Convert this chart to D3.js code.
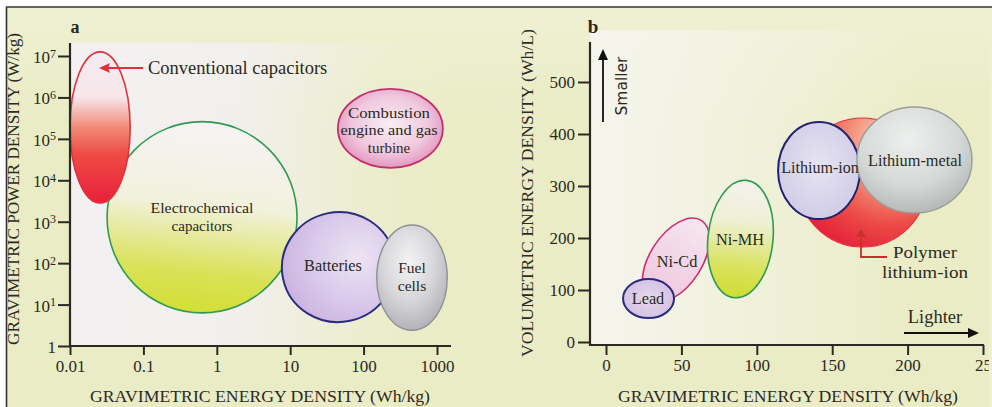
<!DOCTYPE html>
<html><head><meta charset="utf-8">
<script src="https://cdn.jsdelivr.net/npm/d3@7"></script>
<style>body{margin:0;background:#fff}svg{display:block}</style>
</head><body>
<script>
// ---------- DATA ----------
// Panel a: Ragone plot (log-log)
const xTicksA = [0.01, 0.1, 1, 10, 100, 1000];
const xTickLabelsA = ["0.01", "0.1", "1", "10", "100", "1000"];
const yTicksA = [1, 10, 100, 1e3, 1e4, 1e5, 1e6, 1e7];
const yTickExpA = [null, 1, 2, 3, 4, 5, 6, 7];
const techA = ["Electrochemical capacitors", "Conventional capacitors", "Batteries", "Fuel cells", "Combustion engine and gas turbine"];
const energyMinA = [0.032, 0.01, 7.7, 151, 44.6];      // Wh/kg
const energyMaxA = [12.4, 0.066, 270, 1380, 1200];
const powerMinA = [6.3, 2820, 3.8, 2.4, 2.0e4];        // W/kg
const powerMaxA = [2.6e5, 1.26e7, 1700, 830, 1.6e6];
const tiltA = [0, 0, -12, 0, 0];

// Panel b: volumetric vs gravimetric energy density
const xTicksB = [0, 50, 100, 150, 200, 250];
const xTickLabelsB = ["0", "50", "100", "150", "200", "25"];
const yTicksB = [0, 100, 200, 300, 400, 500];
const techB = ["Ni-Cd", "Lead", "Ni-MH", "Polymer lithium-ion", "Lithium-ion", "Lithium-metal"];
const gravMinB = [29.2, 11.3, 67.6, 127.3, 114.1, 166.4];   // Wh/kg
const gravMaxB = [63.6, 45.1, 110.7, 212.9, 168.4, 242.7];
const volMinB = [67.3, 46, 84.6, 182.7, 236.5, 248];       // Wh/L
const volMaxB = [248.1, 121, 311.5, 430.8, 423, 452];
const tiltB = [33, 0, 6, 0, 0, 0];

// ---------- SETUP ----------
const W = 992, H = 407;
const ink = "#2a2a22";
const serif = "'Liberation Serif','Times New Roman',serif";
const svg = d3.select("body").append("svg").attr("width", W).attr("height", H)
  .style("font-family", serif);
const defs = svg.append("defs");

function lin(id, x1, y1, x2, y2, stops) {
  const g = defs.append("linearGradient").attr("id", id)
    .attr("x1", x1).attr("y1", y1).attr("x2", x2).attr("y2", y2);
  stops.forEach(s => g.append("stop").attr("offset", s[0]).attr("stop-color", s[1]).attr("stop-opacity", s[2] == null ? 1 : s[2]));
}
function rad(id, cx, cy, r, stops, fx, fy) {
  const g = defs.append("radialGradient").attr("id", id)
    .attr("cx", cx).attr("cy", cy).attr("r", r).attr("fx", fx == null ? cx : fx).attr("fy", fy == null ? cy : fy);
  stops.forEach(s => g.append("stop").attr("offset", s[0]).attr("stop-color", s[1]).attr("stop-opacity", s[2] == null ? 1 : s[2]));
}

// background gradients
lin("bgA", 0, 0, 1, 0, [[0, "#f3f0f2", 1], [0.45, "#f3f0f2", 0.85], [0.8, "#f3f0f2", 0.15], [1, "#f3f0f2", 0]]);
lin("bgB", 0, 0, 1, 0, [[0, "#f6f5ef", 0.95], [0.35, "#f6f5ef", 0.65], [1, "#f6f5ef", 0]]);
lin("bgTop", 0, 0, 0, 1, [[0, "#f1f3dc", 0.6], [1, "#f1f3dc", 0]]);

// fills panel a
lin("fConv", 0, 0, 0, 1, [[0, "#f3ecf2"], [0.3, "#f7e6ea"], [0.5, "#f28a78"], [0.68, "#ee4a44"], [1, "#e8203c"]]);
lin("fEC", 0.2, 0, 0.1, 1, [[0, "#f6f3f3"], [0.4, "#f2f1dc"], [0.75, "#d9e257"], [1, "#d2de2e"]]);
rad("fBat", 0.68, 0.45, 0.7, [[0, "#ece4f2"], [0.5, "#dccdec"], [1, "#c9b3e0"]]);
rad("fFuel", 0.45, 0.35, 0.75, [[0, "#f4f4f4"], [0.5, "#d6d6da"], [1, "#a6a6ac"]]);
rad("fComb", 0.5, 0.45, 0.65, [[0, "#f8eef4"], [0.55, "#f0c8de"], [1, "#dd7fb0"]]);
// fills panel b
rad("fLead", 0.5, 0.5, 0.6, [[0, "#e6d8ee"], [1, "#d0bde2"]]);
lin("fNiCd", 0, 0, 0, 1, [[0, "#f6e6f0"], [1, "#edc6dc"]]);
lin("fNiMH", 0, 0, 0, 1, [[0, "#f3f2ee"], [0.35, "#eef0d4"], [0.75, "#d8e25a"], [1, "#d0dc34"]]);
rad("fPoly", 0.75, 0.2, 0.9, [[0, "#f8e4dc"], [0.35, "#f49a82"], [0.7, "#ec4a46"], [1, "#e4203a"]]);
rad("fLiIon", 0.5, 0.45, 0.65, [[0, "#e6e4f2"], [1, "#cdc8e4"]]);
rad("fLiMet", 0.45, 0.3, 0.8, [[0, "#eef0ee"], [0.55, "#d4d8d6"], [1, "#a9adac"]]);

// page background + frame
svg.append("rect").attr("x", 6).attr("y", 7).attr("width", W - 6).attr("height", H - 7).attr("fill", "#eaecc5");
svg.append("rect").attr("x", 6).attr("y", 7).attr("width", W - 6).attr("height", 120).attr("fill", "url(#bgTop)");

// ---------- PANEL A ----------
const xa = d3.scaleLog().domain([0.01, 1000]).range([70, 437]);
const ya = d3.scaleLog().domain([1, 1e7]).range([346, 56]);
const gA = svg.append("g");
gA.append("rect").attr("x", 70).attr("y", 43).attr("width", 385).attr("height", 303).attr("fill", "url(#bgA)");

const fillsA = ["url(#fEC)", "url(#fConv)", "url(#fBat)", "url(#fFuel)", "url(#fComb)"];
const strokesA = ["#2f9a52", "#e2303a", "#2b2b7c", "#8f8f94", "#c2306e"];
const swA = [1.6, 1.6, 2, 1.4, 1.8];
techA.forEach((t, i) => {
  const x0 = xa(energyMinA[i]), x1 = xa(energyMaxA[i]);
  const y0 = ya(powerMaxA[i]), y1 = ya(powerMinA[i]);
  const cx = (x0 + x1) / 2, cy = (y0 + y1) / 2;
  gA.append("ellipse").attr("cx", cx).attr("cy", cy)
    .attr("rx", (x1 - x0) / 2).attr("ry", (y1 - y0) / 2)
    .attr("transform", `rotate(${tiltA[i]},${cx},${cy})`)
    .attr("fill", fillsA[i]).attr("stroke", strokesA[i]).attr("stroke-width", swA[i]);
});

// axes A
const axAX = gA.append("g").attr("transform", `translate(0,${ya(1)})`)
  .call(d3.axisBottom(xa).tickValues(xTicksA).tickSize(9).tickSizeOuter(0).tickFormat((d, i) => xTickLabelsA[i]));
const axAY = gA.append("g").attr("transform", `translate(${xa(0.01)},0)`)
  .call(d3.axisLeft(ya).tickValues(yTicksA).tickSize(12).tickSizeOuter(0).tickFormat(""));
[axAX, axAY].forEach(a => {
  a.select(".domain").remove();
  a.selectAll("line").attr("stroke", ink).attr("stroke-width", 2);
  a.selectAll("text").attr("fill", ink).style("font-family", serif).style("font-size", "17px");
});
axAX.selectAll("text").attr("y", 14);
axAY.selectAll(".tick text").each(function (d, i) {
  const t = d3.select(this).attr("x", -14).attr("dy", "0.38em").text(null);
  t.append("tspan").text(d === 1 ? "1" : "10");
  if (yTickExpA[i] != null) t.append("tspan").attr("dy", "-0.45em").style("font-size", "12px").text(yTickExpA[i]);
});
gA.append("line").attr("x1", 70).attr("x2", 70).attr("y1", 43).attr("y2", 347).attr("stroke", ink).attr("stroke-width", 2.2);
gA.append("line").attr("x1", 69).attr("x2", 451).attr("y1", 346).attr("y2", 346).attr("stroke", ink).attr("stroke-width", 2.2);

// labels A
gA.append("text").attr("x", 75).attr("y", 33).attr("text-anchor", "middle").attr("font-weight", "bold").attr("font-size", 18).attr("fill", ink).text("a");
gA.append("text").attr("x", 260).attr("y", 402).attr("text-anchor", "middle").attr("font-size", 17)
  .attr("textLength", 340).attr("lengthAdjust", "spacingAndGlyphs").attr("fill", ink).text("GRAVIMETRIC ENERGY DENSITY (Wh/kg)");
gA.append("text").attr("transform", "translate(19,189) rotate(-90)").attr("text-anchor", "middle").attr("font-size", 17)
  .attr("textLength", 312).attr("lengthAdjust", "spacingAndGlyphs").attr("fill", ink).text("GRAVIMETRIC POWER DENSITY (W/kg)");

// multi-line label; each line is its own text, optionally stretched to a width
function label(g, x, y, lines, size, lh, anchor, widths) {
  lines.forEach((l, k) => {
    const t = g.append("text").attr("x", x).attr("y", y + k * lh).attr("text-anchor", anchor || "middle")
      .attr("font-size", size).attr("fill", ink).text(l);
    if (widths && widths[k]) t.attr("textLength", widths[k]).attr("lengthAdjust", "spacingAndGlyphs");
  });
}
label(gA, 148, 74, ["Conventional capacitors"], 18.5, 0, "start");
label(gA, 202, 213, ["Electrochemical", "capacitors"], 15, 17.5, "middle", [103, 0]);
label(gA, 333, 271, ["Batteries"], 16.3, 0);
label(gA, 412, 273, ["Fuel", "cells"], 15.5, 18);
label(gA, 389, 118, ["Combustion", "engine and gas", "turbine"], 15, 17.3, "middle", [82, 97, 0]);

// red arrow to conventional capacitors
gA.append("line").attr("x1", 143).attr("x2", 106).attr("y1", 68).attr("y2", 68).attr("stroke", "#e2303a").attr("stroke-width", 2);
gA.append("path").attr("d", "M99,68 L110,63 L108,68 L110,73 Z").attr("fill", "#e2303a");

// ---------- PANEL B ----------
const xb = d3.scaleLinear().domain([0, 250]).range([606, 983]);
const yb = d3.scaleLinear().domain([0, 500]).range([342, 82]);
const gB = svg.append("g");
gB.append("rect").attr("x", 590).attr("y", 30).attr("width", 330).attr("height", 316).attr("fill", "url(#bgB)");

const fillsB = ["url(#fNiCd)", "url(#fLead)", "url(#fNiMH)", "url(#fPoly)", "url(#fLiIon)", "url(#fLiMet)"];
const strokesB = ["#d12a6e", "#2b2b7c", "#2f9a52", "#e2303a", "#22226e", "#9a9d9c"];
const swB = [1.6, 2, 1.6, 1.2, 2, 1.4];
techB.forEach((t, i) => {
  const x0 = xb(gravMinB[i]), x1 = xb(gravMaxB[i]);
  const y0 = yb(volMaxB[i]), y1 = yb(volMinB[i]);
  const cx = (x0 + x1) / 2, cy = (y0 + y1) / 2;
  gB.append("ellipse").attr("cx", cx).attr("cy", cy)
    .attr("rx", (x1 - x0) / 2).attr("ry", (y1 - y0) / 2)
    .attr("transform", `rotate(${tiltB[i]},${cx},${cy})`)
    .attr("fill", fillsB[i]).attr("stroke", strokesB[i]).attr("stroke-width", swB[i]);
});

const axBX = gB.append("g").attr("transform", `translate(0,345)`)
  .call(d3.axisBottom(xb).tickValues(xTicksB).tickSize(10).tickSizeOuter(0).tickFormat((d, i) => xTickLabelsB[i]));
const axBY = gB.append("g").attr("transform", `translate(590,0)`)
  .call(d3.axisLeft(yb).tickValues(yTicksB).tickSize(12).tickSizeOuter(0));
[axBX, axBY].forEach(a => {
  a.select(".domain").remove();
  a.selectAll("line").attr("stroke", ink).attr("stroke-width", 2);
  a.selectAll("text").attr("fill", ink).style("font-family", serif).style("font-size", "17px");
});
axBX.selectAll("text").attr("y", 14);
axBY.selectAll("text").attr("x", -15);
gB.append("line").attr("x1", 590).attr("x2", 590).attr("y1", 42).attr("y2", 346).attr("stroke", ink).attr("stroke-width", 2.2);
gB.append("line").attr("x1", 589).attr("x2", 984).attr("y1", 345).attr("y2", 345).attr("stroke", ink).attr("stroke-width", 2.2);

gB.append("text").attr("x", 593).attr("y", 33).attr("text-anchor", "middle").attr("font-weight", "bold").attr("font-size", 19).attr("fill", ink).text("b");
gB.append("text").attr("x", 788).attr("y", 402).attr("text-anchor", "middle").attr("font-size", 17)
  .attr("textLength", 340).attr("lengthAdjust", "spacingAndGlyphs").attr("fill", ink).text("GRAVIMETRIC ENERGY DENSITY (Wh/kg)");
gB.append("text").attr("transform", "translate(533,193) rotate(-90)").attr("text-anchor", "middle").attr("font-size", 17)
  .attr("textLength", 328).attr("lengthAdjust", "spacingAndGlyphs").attr("fill", ink).text("VOLUMETRIC ENERGY DENSITY (Wh/L)");

label(gB, 648, 304, ["Lead"], 16.3, 0);
label(gB, 677, 267, ["Ni-Cd"], 16.3, 0);
label(gB, 740, 245, ["Ni-MH"], 16.3, 0);
label(gB, 820, 173, ["Lithium-ion"], 16, 0);
label(gB, 915, 166, ["Lithium-metal"], 16.3, 0);
label(gB, 925, 258, ["Polymer", "lithium-ion"], 17.5, 20, "middle", [64, 86]);

// polymer connector
gB.append("path").attr("d", "M861,229 L856,237 L866,237 Z").attr("fill", "#c8302e");
gB.append("path").attr("d", "M861,236 L861,257 L887,257").attr("fill", "none").attr("stroke", "#c8302e").attr("stroke-width", 1.8);

// Smaller arrow
gB.append("line").attr("x1", 603).attr("x2", 603).attr("y1", 122).attr("y2", 58).attr("stroke", "#111").attr("stroke-width", 1.8);
gB.append("path").attr("d", "M603,49 L598,60 L608,60 Z").attr("fill", "#111");
gB.append("text").attr("transform", "translate(627,86) rotate(-90)").attr("text-anchor", "middle")
  .attr("font-size", 15.5).attr("font-family", "'DejaVu Sans',sans-serif").attr("fill", ink).text("Smaller");
// Lighter arrow
gB.append("line").attr("x1", 904).attr("x2", 970).attr("y1", 333).attr("y2", 333).attr("stroke", "#111").attr("stroke-width", 1.8);
gB.append("path").attr("d", "M979,333 L968,328 L968,338 Z").attr("fill", "#111");
label(gB, 935, 323, ["Lighter"], 18.5, 0);

// frame
svg.append("line").attr("x1", 6).attr("x2", W).attr("y1", 7).attr("y2", 7).attr("stroke", "#333").attr("stroke-width", 1.6);
svg.append("line").attr("x1", 6.5).attr("x2", 6.5).attr("y1", 7).attr("y2", H).attr("stroke", "#333").attr("stroke-width", 1.6);
svg.append("rect").attr("x", 989).attr("y", 8).attr("width", 3).attr("height", H).attr("fill", "#eef0d2");
</script>
</body></html>
